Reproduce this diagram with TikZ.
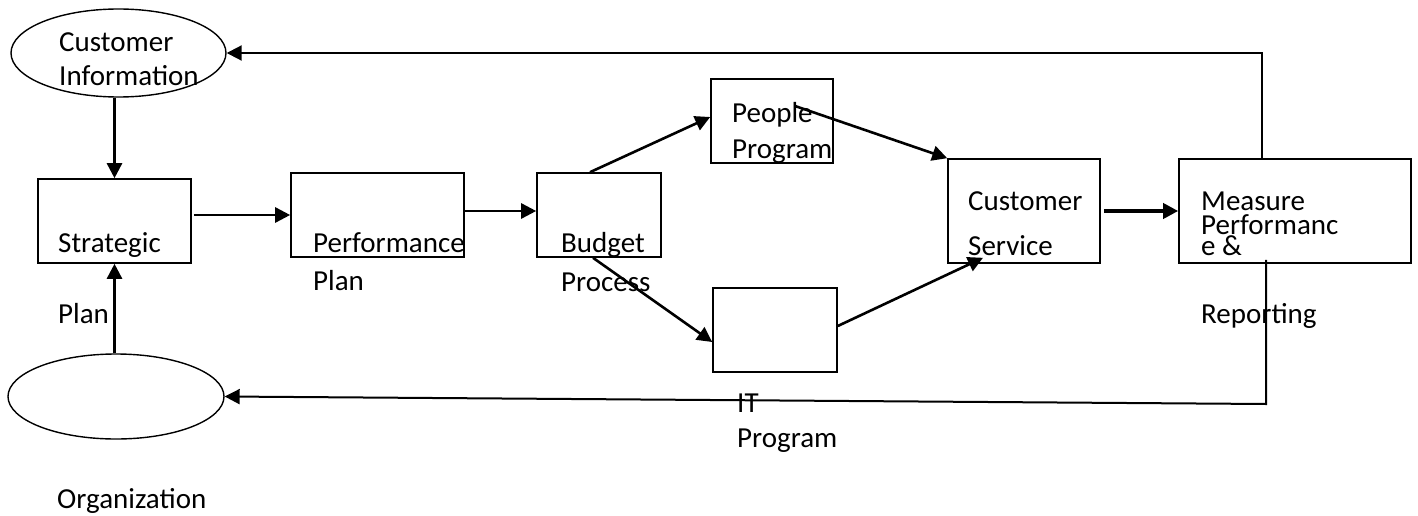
\documentclass[tikz,border=0pt]{standalone}
\usepackage{fontspec}
\setmainfont{Carlito}
\usetikzlibrary{arrows.meta,shapes.geometric}

\begin{document}
\begin{tikzpicture}[x=1pt,y=-1pt,>={Triangle[length=15pt,width=15pt]},
		box/.style={shape=rectangle,draw,line width=1.6pt,inner sep=0pt},
		oval/.style={shape=ellipse,draw,line width=1.4pt,inner sep=0pt},
		txt/.style={anchor=base west,inner sep=0pt,font=\fontsize{29}{34}\selectfont},
		arr/.style={->,line width=2.6pt}]
		\useasboundingbox[fill=white] (0,0) rectangle (1418,516);
		% create the nodes.
		\node (custinfo) [oval,minimum width=215pt,minimum height=88pt] at (118.5,53) {};
		\node (org) [oval,minimum width=216pt,minimum height=85pt] at (116,396.5) {};
		\node (strat) [box,minimum width=153pt,minimum height=84pt] at (114.5,221) {};
		\node (perf) [box,minimum width=173pt,minimum height=84pt] at (377.5,215) {};
		\node (budget) [box,minimum width=124pt,minimum height=84pt] at (599,215) {};
		\node (people) [box,minimum width=122pt,minimum height=84pt] at (772,121) {};
		\node (it) [box,minimum width=124pt,minimum height=84pt] at (775,330) {};
		\node (cs) [box,minimum width=152pt,minimum height=104pt] at (1024,211) {};
		\node (measure) [box,minimum width=232pt,minimum height=104pt] at (1295,211) {};

		% the texts
		\node (custinfotxt) [txt] at (59,52) {Customer};
		\node (custinfotxt2) [txt] at (59,86) {Information};
		\node (strattxt) [txt] at (58,252) {Strategic};
		\node (strattxt2) [txt] at (58,323) {Plan};
		\node (orgtxt) [txt] at (57,508) {Organization};
		\node (perftxt) [txt] at (313,252) {Performance};
		\node (perftxt2) [txt] at (313,290) {Plan};
		\node (budgettxt) [txt] at (561,252) {Budget};
		\node (budgettxt2) [txt] at (561,291) {Process};
		\node (peopletxt) [txt] at (732,123) {People};
		\node (peopletxt2) [txt] at (732,158) {Program};
		\node (ittxt) [txt] at (737,412) {IT};
		\node (ittxt2) [txt] at (737,447) {Program};
		\node (cstxt) [txt] at (968,210) {Customer};
		\node (cstxt2) [txt] at (968,255) {Service};
		\node (measuretxt) [txt] at (1201,210) {Measure};
		\node (measuretxt2) [txt] at (1201,234) {Performanc};
		\node (measuretxt3) [txt] at (1201,255) {e \&};
		\node (measuretxt4) [txt] at (1201,323) {Reporting};

		% connect the nodes
		\draw[arr] (custinfo.south -| strat.north) -- (strat.north);
		\draw[arr] (org.north -| strat.south) -- (strat.south);
		\draw[arr,shorten <=2pt] (strat.east |- perf.west) -- (perf.west);
		\draw[arr] ([yshift=4pt]perf.east) -- ([yshift=4pt]budget.west);
		\draw[arr] ([xshift=-9pt]budget.north) -- ([yshift=4pt]people.west);
		\draw[arr] ([xshift=-6pt]budget.south) -- ([yshift=-12pt]it.west);
		\draw[arr] ([xshift=23pt,yshift=15pt]people.center) -- (cs.north west);
		\draw[arr] ([yshift=4pt]it.east) -- ([xshift=-41pt,yshift=6pt]cs.south);
		\draw[arr,line width=3.6pt,shorten <=3pt] (cs.east) -- (measure.west);
		\draw[arr,line width=2pt] ([xshift=-33pt]measure.north) |- (custinfo.east);
		\coordinate (bend) at (1266,404);
		\draw[arr,line width=2pt] ([xshift=-29pt,yshift=4pt]measure.south) -- (bend) -- (org.east);
	\end{tikzpicture}
\end{document}
